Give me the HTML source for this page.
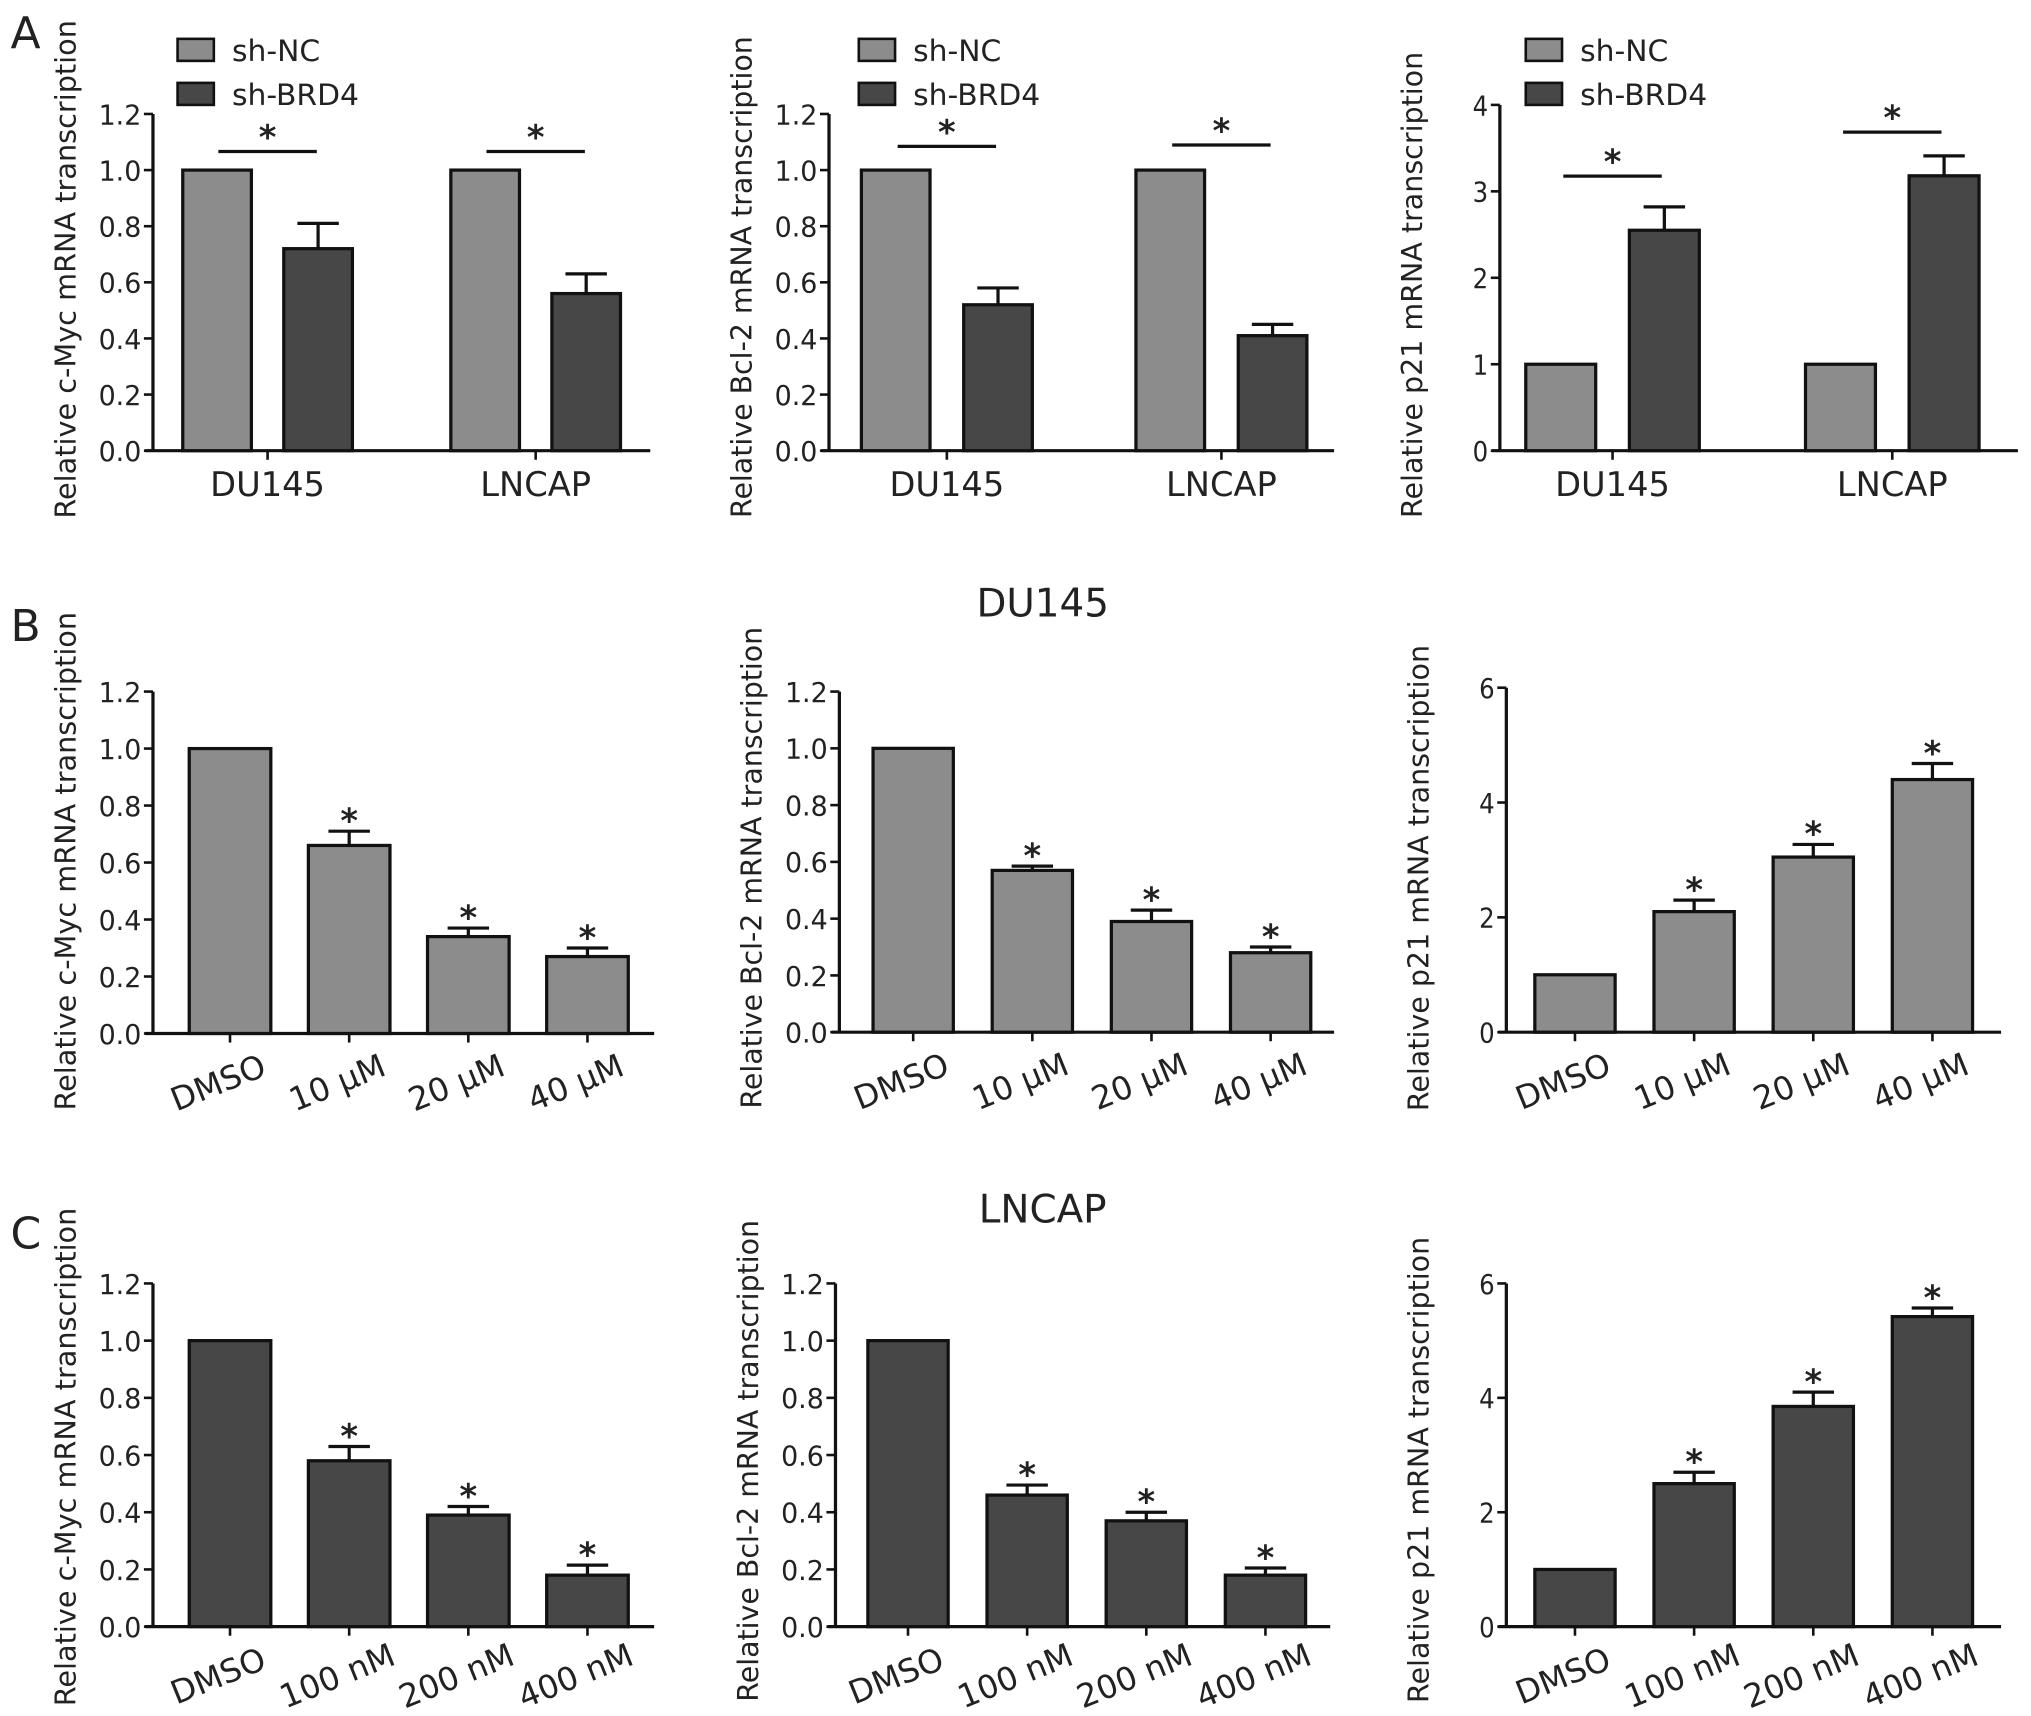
<!DOCTYPE html>
<html><head><meta charset="utf-8"><style>
html,body{margin:0;padding:0;background:#fff}
svg{display:block}
text{font-family:"DejaVu Sans","Liberation Sans",sans-serif;fill:#222}
</style></head><body>
<svg id="fig" width="2031" height="1716" viewBox="0 0 1568 1325" xmlns="http://www.w3.org/2000/svg">
<text x="8" y="37" font-size="34">A</text>
<text x="8" y="495" font-size="34">B</text>
<text x="8" y="964" font-size="34">C</text>
<text x="805" y="476" font-size="30" text-anchor="middle">DU145</text>
<text x="805" y="944" font-size="30" text-anchor="middle">LNCAP</text>
<g id="legends"></g>
<g id="charts"></g>
</svg>
<script>
// ---- Data ----
const groupsA = ["DU145", "LNCAP"];
const seriesA = ["sh-NC", "sh-BRD4"];
const cmycA = [[1, 1], [0.72, 0.56]];
const cmycAErr = [[0, 0], [0.09, 0.07]];
const bcl2A = [[1, 1], [0.52, 0.41]];
const bcl2AErr = [[0, 0], [0.06, 0.04]];
const p21A = [[1, 1], [2.55, 3.18]];
const p21AErr = [[0, 0], [0.27, 0.23]];

const catsB = ["DMSO", "10 μM", "20 μM", "40 μM"];
const cmycB = [1, 0.66, 0.34, 0.27];
const cmycBErr = [0, 0.05, 0.03, 0.03];
const bcl2B = [1, 0.57, 0.39, 0.28];
const bcl2BErr = [0, 0.015, 0.04, 0.02];
const p21B = [1, 2.1, 3.05, 4.4];
const p21BErr = [0, 0.2, 0.22, 0.28];

const catsC = ["DMSO", "100 nM", "200 nM", "400 nM"];
const cmycC = [1, 0.58, 0.39, 0.18];
const cmycCErr = [0, 0.05, 0.03, 0.035];
const bcl2C = [1, 0.46, 0.37, 0.18];
const bcl2CErr = [0, 0.035, 0.03, 0.025];
const p21C = [1, 2.5, 3.85, 5.42];
const p21CErr = [0, 0.2, 0.25, 0.15];

const ticksFrac = ["0.0", "0.2", "0.4", "0.6", "0.8", "1.0", "1.2"];
const ticksP21A = ["0", "1", "2", "3", "4"];
const ticksP21 = ["0", "2", "4", "6"];

const LIGHT = "#8c8c8c", DARK = "#474747";
const NS = "http://www.w3.org/2000/svg";
const root = document.getElementById("charts");
function mk(tag, attrs, parent, txt) {
  const e = document.createElementNS(NS, tag);
  for (const k in attrs) e.setAttribute(k, attrs[k]);
  if (txt !== undefined) e.textContent = txt;
  (parent || root).appendChild(e);
  return e;
}

function axes(g, cfg, ticks) {
  const ymax = parseFloat(ticks[ticks.length - 1]);
  const y = v => cfg.y0 - (v / ymax) * (cfg.y0 - cfg.y1);
  mk("line", {x1: cfg.ax, y1: cfg.y1, x2: cfg.ax, y2: cfg.y0, stroke: "#111", "stroke-width": 2.5}, g);
  mk("line", {x1: cfg.ax - 6, y1: cfg.y0, x2: cfg.xend, y2: cfg.y0, stroke: "#111", "stroke-width": 2.5}, g);
  ticks.forEach(t => {
    const ty = y(parseFloat(t));
    mk("line", {x1: cfg.ax - 7, y1: ty, x2: cfg.ax, y2: ty, stroke: "#111", "stroke-width": 2}, g);
    const lab = mk("text", {x: cfg.ax - 9, y: ty + 8, "font-size": 21, "text-anchor": "end", "textLength": t.length > 1 ? 33 : 12, "lengthAdjust": "spacingAndGlyphs"}, g, t);
    
    
  });
  const yt = mk("text", {x: 0, y: 0, "font-size": 22, "text-anchor": "middle", "textLength": cfg.tl, "lengthAdjust": "spacingAndGlyphs", transform: `translate(${cfg.ax - 60},${cfg.tc}) rotate(-90)`}, g, cfg.title);
  
  
  return y;
}

function bar(g, x, w, y, y0, v, err, color, star) {
  const top = y(v);
  if (err > 0) {
    const et = y(v + err);
    mk("line", {x1: x + w / 2, y1: top, x2: x + w / 2, y2: et, stroke: "#111", "stroke-width": 2.5}, g);
    mk("line", {x1: x + w / 2 - 16, y1: et, x2: x + w / 2 + 16, y2: et, stroke: "#111", "stroke-width": 2.5}, g);
  }
  const r = mk("rect", {x: x, y: top, width: w, height: y0 - top, fill: color, stroke: "#111", "stroke-width": 2.5}, g);
  
  
  if (star) {
    const s = mk("text", {x: x + w / 2, y: y(v + err) + 1, "font-size": 26, "text-anchor": "middle", "font-weight": "bold"}, g, "*");
    
    
  }
}

function chartA(cfg, vals, errs, ticks, sigY) {
  const g = mk("g", {});
  
  
  const y = axes(g, cfg, ticks);
  groupsA.forEach((grp, gi) => {
    const gx = cfg.gx[gi];
    seriesA.forEach((s, si) => {
      bar(g, gx + si * cfg.step, cfg.w, y, cfg.y0, vals[si][gi], errs[si][gi], si ? DARK : LIGHT, false);
    });
    const cx = gx + cfg.step / 2 + cfg.w / 2;
    mk("line", {x1: cx, y1: cfg.y0, x2: cx, y2: cfg.y0 + 7, stroke: "#111", "stroke-width": 2}, g);
    const xl = mk("text", {x: cx, y: cfg.y0 + 35, "font-size": 26, "text-anchor": "middle"}, g, grp);
    
    
    const sy = sigY[gi];
    mk("line", {x1: cx - 38, y1: sy, x2: cx + 38, y2: sy, stroke: "#111", "stroke-width": 2.5}, g);
    const st = mk("text", {x: cx, y: sy - 2, "font-size": 26, "text-anchor": "middle", "font-weight": "bold"}, g, "*");
    
    
  });
}

function chartB(cfg, cats, vals, errs, ticks, color) {
  const g = mk("g", {});
  
  
  const y = axes(g, cfg, ticks);
  cats.forEach((c, i) => {
    const x = cfg.bx + i * cfg.step;
    bar(g, x, cfg.w, y, cfg.y0, vals[i], errs[i], color, i > 0);
    const cx = x + cfg.w / 2;
    mk("line", {x1: cx, y1: cfg.y0, x2: cx, y2: cfg.y0 + 7, stroke: "#111", "stroke-width": 2}, g);
    const xl = mk("text", {x: 0, y: 0, "font-size": 25, "text-anchor": "middle", transform: `translate(${cx - 6},${cfg.y0 + 46}) rotate(-22)`}, g, c);
    
    
  });
}

// Row A
chartA({name: "chart-a-cmyc", ax: 118, y0: 348, y1: 88, xend: 502, gx: [141, 348], step: 78, w: 53, tc: 208, tl: 385, title: "Relative c-Myc mRNA transcription"}, cmycA, cmycAErr, ticksFrac, [117, 117]);
chartA({name: "chart-a-bcl2", ax: 640, y0: 348, y1: 88, xend: 1030, gx: [665, 877], step: 79, w: 53, tc: 214, tl: 372, title: "Relative Bcl-2 mRNA transcription"}, bcl2A, bcl2AErr, ticksFrac, [113, 112]);
chartA({name: "chart-a-p21", ax: 1158, y0: 348, y1: 81, xend: 1558, gx: [1178, 1394], step: 80, w: 54, tc: 220, tl: 360, title: "Relative p21 mRNA transcription"}, p21A, p21AErr, ticksP21A, [136, 102]);

// Row B
chartB({name: "chart-b-cmyc", ax: 118, y0: 798, y1: 534, xend: 505, bx: 146, step: 92, w: 63, tc: 665, tl: 385, title: "Relative c-Myc mRNA transcription"}, catsB, cmycB, cmycBErr, ticksFrac, LIGHT);
chartB({name: "chart-b-bcl2", ax: 648, y0: 797, y1: 534, xend: 1030, bx: 674, step: 92, w: 62, tc: 670, tl: 372, title: "Relative Bcl-2 mRNA transcription"}, catsB, bcl2B, bcl2BErr, ticksFrac, LIGHT);
chartB({name: "chart-b-p21", ax: 1163, y0: 797, y1: 531, xend: 1545, bx: 1185, step: 92, w: 62, tc: 678, tl: 360, title: "Relative p21 mRNA transcription"}, catsB, p21B, p21BErr, ticksP21, LIGHT);

// Row C
chartB({name: "chart-c-cmyc", ax: 118, y0: 1256, y1: 991, xend: 505, bx: 146, step: 92, w: 63, tc: 1125, tl: 385, title: "Relative c-Myc mRNA transcription"}, catsC, cmycC, cmycCErr, ticksFrac, DARK);
chartB({name: "chart-c-bcl2", ax: 645, y0: 1256, y1: 991, xend: 1027, bx: 670, step: 92, w: 62, tc: 1128, tl: 372, title: "Relative Bcl-2 mRNA transcription"}, catsC, bcl2C, bcl2CErr, ticksFrac, DARK);
chartB({name: "chart-c-p21", ax: 1163, y0: 1256, y1: 991, xend: 1545, bx: 1185, step: 92, w: 62, tc: 1135, tl: 360, title: "Relative p21 mRNA transcription"}, catsC, p21C, p21CErr, ticksP21, DARK);

// Legends
const lg = document.getElementById("legends");
[137, 663, 1178].forEach(lx => {
  seriesA.forEach((s, si) => {
    const sq = mk("rect", {x: lx, y: 30 + si * 34, width: 28, height: 17, fill: si ? DARK : LIGHT, stroke: "#111", "stroke-width": 2}, lg);
    
    
    const t = mk("text", {x: lx + 42, y: 47 + si * 34, "font-size": 23}, lg, s);
    
    
  });
});
</script>
</body></html>
